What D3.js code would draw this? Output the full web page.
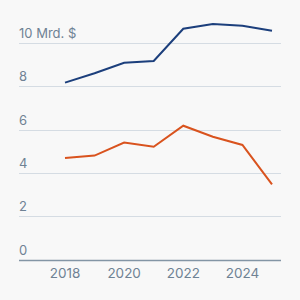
<!DOCTYPE html>
<html>
<head>
<meta charset="utf-8">
<script src="https://cdn.jsdelivr.net/npm/d3@7"></script>
<style>
  body { margin: 0; background: #f8f8f8; }
  svg { display: block; font-family: Inter, "Noto Sans", sans-serif; }
</style>
</head>
<body>
<div id="chart"></div>
<script>
// data
var years = [2018, 2019, 2020, 2021, 2022, 2023, 2024, 2025];
var blueValues = [8.17, 8.6, 9.09, 9.17, 10.66, 10.88, 10.8, 10.57];
var orangeValues = [4.69, 4.8, 5.4, 5.21, 6.18, 5.67, 5.29, 3.47];
var yTicks = [0, 2, 4, 6, 8, 10];
var xTicks = [2018, 2020, 2022, 2024];

var svgWidth = 300;
var svgHeight = 300;

var svg = d3.select("#chart").append("svg")
  .attr("width", svgWidth)
  .attr("height", svgHeight);

svg.append("rect")
  .attr("width", svgWidth)
  .attr("height", svgHeight)
  .attr("fill", "#f8f8f8");

var xScale = d3.scaleLinear()
  .domain([2018, 2025])
  .range([65, 272]);

var yScale = d3.scaleLinear()
  .domain([0, 10])
  .range([259.5, 43]);

var gridLeft = 19;
var gridRight = 281;

// gridlines + labels
var yAxis = svg.append("g");
yAxis.selectAll("line")
  .data(yTicks)
  .enter()
  .append("line")
  .attr("x1", gridLeft)
  .attr("x2", gridRight)
  .attr("y1", d => Math.round(yScale(d)) + 0.5)
  .attr("y2", d => Math.round(yScale(d)) + 0.5)
  .attr("stroke", d => d === 0 ? "#8395a5" : "#d5dce3")
  .attr("stroke-width", d => d === 0 ? 1.5 : 1);

yAxis.selectAll("text")
  .data(yTicks)
  .enter()
  .append("text")
  .attr("x", gridLeft)
  .attr("y", d => yScale(d) - 5)
  .attr("fill", "#6f8294")
  .style("font-size", "13px")
  .text(d => d === 10 ? "10 Mrd. $" : d);

// x axis labels
svg.append("g")
  .selectAll("text")
  .data(xTicks)
  .enter()
  .append("text")
  .attr("x", d => xScale(d))
  .attr("y", 278)
  .attr("text-anchor", "middle")
  .attr("fill", "#6f8294")
  .style("font-size", "13.5px")
  .text(d => d);

var line = d3.line()
  .x((d, i) => xScale(years[i]))
  .y(d => yScale(d));

svg.append("path")
  .datum(blueValues)
  .attr("d", line)
  .attr("fill", "none")
  .attr("stroke", "#1c3f7c")
  .attr("stroke-width", 2);

svg.append("path")
  .datum(orangeValues)
  .attr("d", line)
  .attr("fill", "none")
  .attr("stroke", "#d9531e")
  .attr("stroke-width", 2);
</script>
</body>
</html>
